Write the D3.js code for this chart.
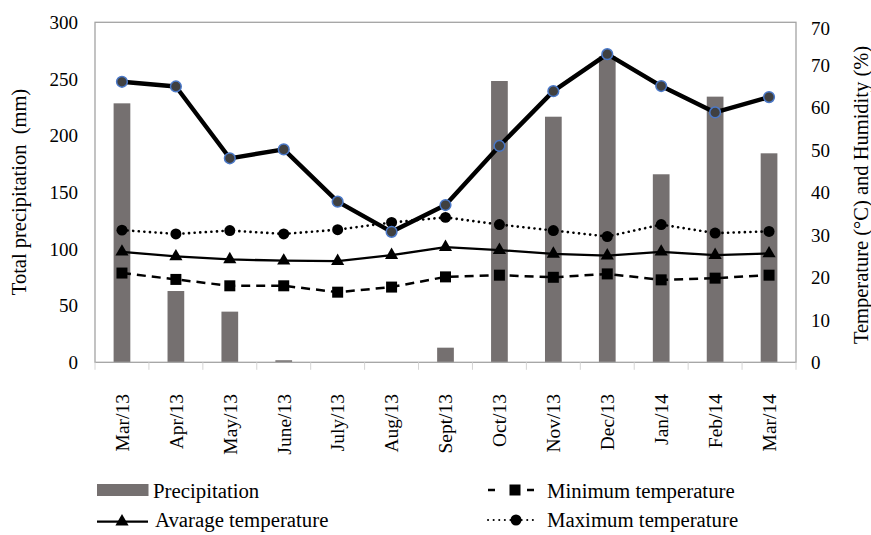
<!DOCTYPE html>
<html>
<head>
<meta charset="utf-8">
<script src="https://cdn.jsdelivr.net/npm/d3@7"></script>
<style>
  html, body { margin: 0; padding: 0; background: #fff; }
  svg { display: block; font-family: "Liberation Serif", "Times New Roman", serif; }
</style>
</head>
<body>
<svg id="chart" width="871" height="535"></svg>
<script>
const months = ["Mar/13","Apr/13","May/13","June/13","July/13","Aug/13","Sept/13","Oct/13","Nov/13","Dec/13","Jan/14","Feb/14","Mar/14"];
const precipitation = [228.5, 62.9, 44.7, 1.8, 0, 0, 12.9, 248.2, 216.7, 270, 165.9, 234.4, 184.4];
const humidity = [66.0, 64.9, 48.0, 50.1, 37.8, 30.7, 37.0, 50.9, 63.8, 72.5, 65.0, 58.8, 62.4];
const maxTemp = [31.1, 30.2, 31.0, 30.2, 31.2, 32.9, 34.1, 32.4, 31.0, 29.6, 32.4, 30.4, 30.8];
const avgTemp = [26.0, 24.9, 24.2, 23.9, 23.8, 25.2, 27.1, 26.4, 25.5, 25.1, 26.0, 25.2, 25.6];
const minTemp = [21.0, 19.5, 18.0, 18.0, 16.5, 17.7, 20.1, 20.5, 20.0, 20.8, 19.4, 19.8, 20.5];
const leftTicks = [0, 50, 100, 150, 200, 250, 300];
const rightTickValues = [0, 10, 20, 30, 40, 50, 60, 70, 80];
const rightTickLabels = ["0", "10", "20", "30", "40", "50", "60", "70", "70"];
const leftTitle = "Total precipitation\u00A0\u00A0(mm)";
const rightTitle = "Temperature (\u00B0C) and Humidity (%)";
const legendItems = ["Precipitation", "Minimum temperature", "Avarage temperature", "Maximum temperature"];

const svg = d3.select("#chart");
const L = 95, R = 796, T = 22.3, B = 362.3;
const barColor = "#757070";

const x = d3.scaleBand().domain(months).range([L, R]).paddingInner(0.69).paddingOuter(0.345);
const xStep = d3.scaleBand().domain(months).range([L, R]).padding(0);
const cx = m => x(m) + x.bandwidth() / 2;
const yL = d3.scaleLinear().domain([0, 300]).range([B, T]);
const yR = d3.scaleLinear().domain([0, 80]).range([B, T]);

// bars
svg.append("g").selectAll("rect").data(months).join("rect")
  .attr("x", m => x(m)).attr("width", x.bandwidth())
  .attr("y", (m, i) => yL(precipitation[i]))
  .attr("height", (m, i) => B - yL(precipitation[i]))
  .attr("fill", barColor);

// frame
svg.append("rect").attr("x", L).attr("y", T).attr("width", R - L).attr("height", B - T)
  .attr("fill", "none").attr("stroke", "#a3a3a3").attr("stroke-width", 1.3);

// bottom ticks at category boundaries
const bounds = months.map(m => xStep(m)).concat([R]);
svg.append("g").selectAll("line").data(bounds).join("line")
  .attr("x1", d => d).attr("x2", d => d).attr("y1", B).attr("y2", B + 7.5)
  .attr("stroke", "#d4d4d4").attr("stroke-width", 1);

// left axis labels
const leftAxis = d3.axisLeft(yL).tickValues(leftTicks).tickSize(0).tickPadding(17);
svg.append("g").attr("transform", `translate(${L},0)`).call(leftAxis)
  .call(g => g.select(".domain").remove())
  .selectAll("text").attr("font-size", 19).attr("fill", "#000")
  .attr("font-family", "Liberation Serif, serif");

// right axis labels
const rightAxis = d3.axisRight(yR).tickValues(rightTickValues)
  .tickFormat((d, i) => rightTickLabels[i]).tickSize(0).tickPadding(15);
svg.append("g").attr("transform", `translate(${R},0)`).call(rightAxis)
  .call(g => g.select(".domain").remove())
  .selectAll("text").attr("font-size", 19).attr("fill", "#000")
  .attr("font-family", "Liberation Serif, serif")
  .attr("dy", (d, i) => i === rightTickValues.length - 1 ? "0.65em" : "0.35em");

// x labels
svg.append("g").selectAll("text").data(months).join("text")
  .attr("transform", m => `translate(${cx(m)},394) rotate(-90)`)
  .attr("text-anchor", "end").attr("dy", "0.35em")
  .attr("font-size", 19.5).attr("fill", "#000").text(m => m);

// axis titles
svg.append("text").attr("transform", "translate(26,192) rotate(-90)")
  .attr("text-anchor", "middle").attr("font-size", 20.5).attr("fill", "#000")
  .style("white-space", "pre").text(leftTitle);
svg.append("text").attr("transform", "translate(868,195) rotate(-90)")
  .attr("text-anchor", "middle").attr("font-size", 20.5).attr("fill", "#000")
  .text(rightTitle);

// series
function drawSeries(values, opts) {
  const line = d3.line().x((d, i) => cx(months[i])).y(d => yR(d));
  svg.append("path").datum(values).attr("d", line)
    .attr("fill", "none").attr("stroke", "#000").attr("stroke-width", opts.width)
    .attr("stroke-dasharray", opts.dash || null)
    .attr("stroke-linecap", opts.cap || "butt").attr("stroke-linejoin", "round");
  const sym = d3.symbol().type(opts.symbol).size(opts.size);
  svg.append("g").selectAll("path").data(values).join("path")
    .attr("transform", (d, i) => `translate(${cx(months[i])},${yR(d)})`)
    .attr("d", sym)
    .attr("fill", opts.fill).attr("stroke", opts.stroke || "none")
    .attr("stroke-width", opts.strokeWidth || 0);
}
const minOpts = { width: 2.5, dash: "9,6", symbol: d3.symbolSquare, size: 121, fill: "#000" };
const avgOpts = { width: 2.3, symbol: d3.symbolTriangle, size: 75, fill: "#000" };
const maxOpts = { width: 2.6, dash: "0.1,5.5", cap: "round", symbol: d3.symbolCircle, size: 95, fill: "#000" };
drawSeries(minTemp, minOpts);
drawSeries(avgTemp, avgOpts);
drawSeries(maxTemp, maxOpts);
drawSeries(humidity, { width: 4.4, symbol: d3.symbolCircle, size: 90, fill: "#404040", stroke: "#4a78c8", strokeWidth: 1.5 });

// legend
const lg = svg.append("g");
const legendFont = 20.8;
lg.append("rect").attr("x", 97).attr("y", 484).attr("width", 51.5).attr("height", 12).attr("fill", barColor);
lg.append("text").attr("x", 153).attr("y", 498).attr("font-size", legendFont).attr("fill", "#000").text(legendItems[0]);

function legendLine(x1, x2, y, opts, mx) {
  lg.append("line").attr("x1", x1).attr("x2", x2).attr("y1", y).attr("y2", y)
    .attr("stroke", "#000").attr("stroke-width", opts.width)
    .attr("stroke-dasharray", opts.dash || null).attr("stroke-linecap", opts.cap || "butt");
  lg.append("path").attr("transform", `translate(${mx},${y})`)
    .attr("d", d3.symbol().type(opts.symbol).size(opts.size)).attr("fill", opts.fill);
}
legendLine(488, 534, 490, Object.assign({}, minOpts, { dash: "7,32,7" }), 515);
lg.append("text").attr("x", 547).attr("y", 498).attr("font-size", legendFont).attr("fill", "#000").text(legendItems[1]);
legendLine(97, 148, 521.7, avgOpts, 122);
lg.append("text").attr("x", 155).attr("y", 527).attr("font-size", legendFont).attr("fill", "#000").text(legendItems[2]);
legendLine(488, 534, 520, Object.assign({}, maxOpts, { width: 2 }), 516);
lg.append("text").attr("x", 547).attr("y", 527).attr("font-size", legendFont).attr("fill", "#000").text(legendItems[3]);
</script>
</body>
</html>
